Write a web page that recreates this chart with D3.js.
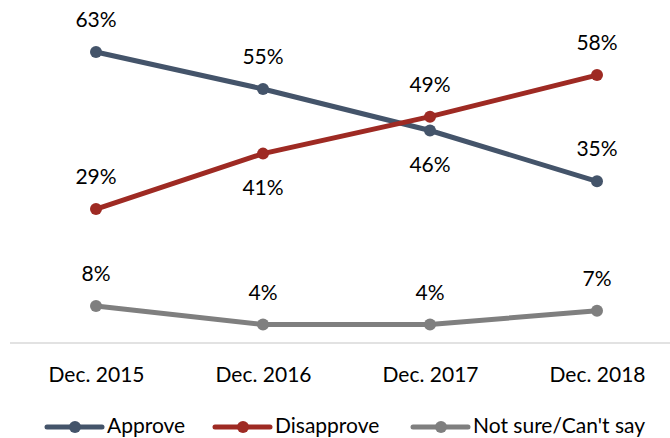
<!DOCTYPE html>
<html>
<head>
<meta charset="utf-8">
<script src="https://cdn.jsdelivr.net/npm/d3@7"></script>
<style>
  body { margin: 0; background: #fff; }
  text { font-family: Lato, "Open Sans", sans-serif; fill: #000; }
</style>
</head>
<body>
<div id="chart"></div>
<script>
const categories = ['Dec. 2015', 'Dec. 2016', 'Dec. 2017', 'Dec. 2018']
const approve = [63, 55, 46, 35]
const disapprove = [29, 41, 49, 58]
const notSure = [8, 4, 4, 7]

// label placement: 'a' above, 'b' below
const series = [
  { name: 'Approve', values: approve, color: '#44546a', pos: ['a', 'a', 'b', 'a'] },
  { name: 'Disapprove', values: disapprove, color: '#9e2a23', pos: ['a', 'b', 'a', 'a'] },
  { name: 'Not sure/Can\'t say', values: notSure, color: '#7f7f7f', pos: ['a', 'a', 'a', 'a'] }
]

const width = 670
const height = 438
const fontSize = '21px'

const svg = d3.select('#chart')
  .append('svg')
  .attr('width', width)
  .attr('height', height)

const x = d3.scalePoint()
  .domain(categories)
  .range([96, 597])

const y = d3.scaleLinear()
  .domain([0, 63])
  .range([343, 52])

// baseline axis
svg.append('line')
  .attr('x1', 10).attr('x2', width)
  .attr('y1', y(0)).attr('y2', y(0))
  .attr('stroke', '#d9d9d9')
  .attr('stroke-width', 1.5)

const xAxis = d3.axisBottom(x).tickSize(0).tickPadding(0)
const gx = svg.append('g')
  .attr('transform', `translate(0, 382)`)
  .call(xAxis)
gx.select('.domain').remove()
gx.selectAll('text')
  .attr('dy', 0)
  .style('font-size', fontSize)
  .style('font-family', 'Lato, "Open Sans", sans-serif')
  .attr('fill', '#000')

const line = d3.line()
  .x((d, i) => x(categories[i]))
  .y(d => y(d))

series.forEach(s => {
  svg.append('path')
    .datum(s.values)
    .attr('d', line)
    .attr('fill', 'none')
    .attr('stroke', s.color)
    .attr('stroke-width', 5)
    .attr('stroke-linecap', 'round')

  svg.append('g')
    .selectAll('circle')
    .data(s.values)
    .enter()
    .append('circle')
    .attr('cx', (d, i) => x(categories[i]))
    .attr('cy', d => y(d))
    .attr('r', 6)
    .attr('fill', s.color)

  svg.append('g')
    .selectAll('text')
    .data(s.values)
    .enter()
    .append('text')
    .text(d => d + '%')
    .attr('x', (d, i) => x(categories[i]))
    .attr('y', (d, i) => y(d) + (s.pos[i] === 'a' ? -25 : 41))
    .attr('text-anchor', 'middle')
    .style('font-size', fontSize)
})

// legend
const legendX = [47, 215, 413]
const legend = svg.append('g')
series.forEach((s, i) => {
  const lx = legendX[i]
  legend.append('line')
    .attr('x1', lx).attr('x2', lx + 55)
    .attr('y1', 427).attr('y2', 427)
    .attr('stroke', s.color)
    .attr('stroke-width', 5)
    .attr('stroke-linecap', 'round')
  legend.append('circle')
    .attr('cx', lx + 28).attr('cy', 427)
    .attr('r', 6)
    .attr('fill', s.color)
  legend.append('text')
    .text(s.name)
    .attr('x', lx + 60)
    .attr('y', 433)
    .style('font-size', fontSize)
})
</script>
</body>
</html>
